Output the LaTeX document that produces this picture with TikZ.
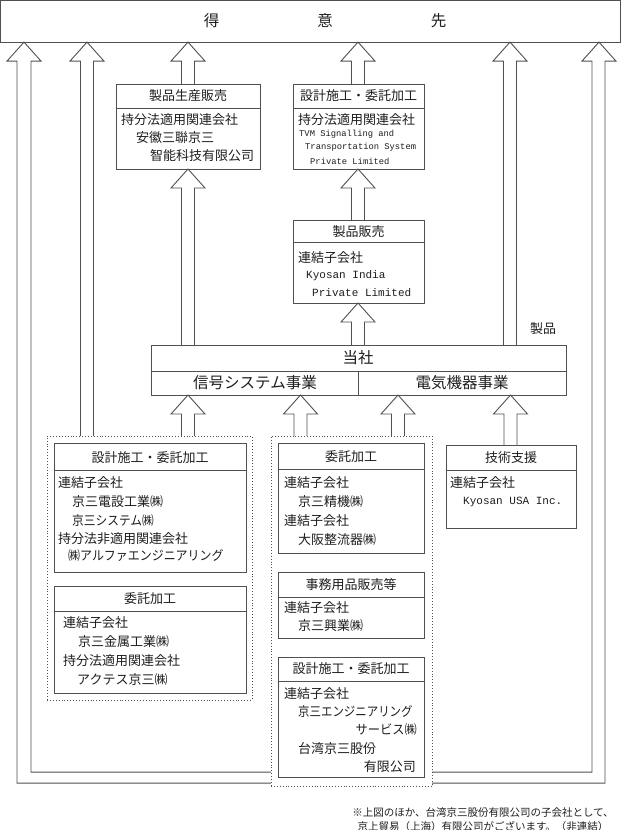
\documentclass[tikz,border=0pt]{standalone}
\usepackage{fontspec}
\setmainfont{Noto Sans CJK JP}
\newfontfamily\monof{Liberation Mono}
\usetikzlibrary{calc}
\definecolor{linec}{HTML}{505050}
\definecolor{txtc}{HTML}{1E1E1E}
\newcommand\blockarr[3]{%
  \coordinate (ax) at (#1,0);
  \draw[arr] ($(ax|-#2.north)+(-6.5,0)$) -- ($(ax|-#3.south)+(-6.5,19)$) -- ($(ax|-#3.south)+(-17,19)$) -- (ax|-#3.south) -- ($(ax|-#3.south)+(17,19)$) -- ($(ax|-#3.south)+(6.5,19)$) -- ($(ax|-#2.north)+(6.5,0)$);}
\newcommand\hdrline[2]{\draw[arr] ($(#1.north west)+(0,#2)$) -- ($(#1.north east)+(0,#2)$);}
\begin{document}
\begin{tikzpicture}[x=1pt,y=-1pt,
  arr/.style={draw=linec, line width=0.9pt, line join=miter},
  box/.style={draw=linec, line width=0.9pt, fill=white, anchor=north west, inner sep=0pt, outer sep=0pt},
  grp/.style={draw=linec, line width=0.9pt, dotted, fill=white, anchor=north west, inner sep=0pt, outer sep=0pt},
  hdr/.style={font=\fontsize{13}{13}\selectfont, text=txtc, inner sep=0pt, anchor=center},
  txt/.style={font=\fontsize{13}{13}\selectfont, text=txtc, inner sep=0pt, anchor=west},
  rtxt/.style={font=\fontsize{13}{13}\selectfont, text=txtc, inner sep=0pt, anchor=east},
  big/.style={font=\fontsize{15.5}{15.5}\selectfont, text=txtc, inner sep=0pt, anchor=center},
  msm/.style={font=\monof\fontsize{8.8}{8.8}\selectfont, text=txtc, inner sep=0pt, anchor=west},
  mlg/.style={font=\monof\fontsize{11}{11}\selectfont, text=txtc, inner sep=0pt, anchor=west},
  note/.style={font=\fontsize{10.5}{10.5}\selectfont, text=txtc, inner sep=0pt, anchor=center}]
\useasboundingbox (0,0) rectangle (622,830);
\fill[white] (0,0) rectangle (622,830);

% customers
\node[box, minimum width=620pt, minimum height=41.5pt] (tok) at (0.6,0.6) {};
\node[big] (toktxt) at (325,21) {得\hspace{98pt}意\hspace{98pt}先};

% U-shaped band
\coordinate (uL) at (24,0);
\coordinate (uR) at (599,0);
\draw[arr] (uL|-tok.south) -- ++(17,19) -- ++(-10,0) -- ++(0,711) -- ++(561,0) -- ++(0,-711) -- ++(-10,0)
  -- (uR|-tok.south) -- ++(17,19) -- ++(-11,0) -- ++(0,722) -- ++(-588,0) -- ++(0,-722) -- ++(-10,0) -- cycle;

% top boxes
\node[box, minimum width=144pt, minimum height=85pt] (p1) at (116,84) {};
\hdrline{p1}{24}
\node[hdr] (p1h) at (188,96) {製品生産販売};
\node[txt] (p1a) at (121,120) {持分法適用関連会社};
\node[txt] (p1b) at (136,138) {安徽三聯京三};
\node[txt] (p1c) at (150,156) {智能科技有限公司};

\node[box, minimum width=131pt, minimum height=85pt] (p2) at (293,84) {};
\hdrline{p2}{24}
\node[hdr] (p2h) at (358.5,96) {設計施工・委託加工};
\node[txt] (p2a) at (298,120) {持分法適用関連会社};
\node[msm] (p2b) at (299,134) {TVM Signalling and};
\node[msm] (p2c) at (305,147.5) {Transportation System};
\node[msm] (p2d) at (310,161) {Private Limited};

\node[box, minimum width=131pt, minimum height=83pt] (p3) at (293,220) {};
\hdrline{p3}{22}
\node[hdr] (p3h) at (358.5,232) {製品販売};
\node[txt] (p3a) at (298,258) {連結子会社};
\node[mlg] (p3b) at (306,276) {Kyosan India};
\node[mlg] (p3c) at (312,293) {Private Limited};

% company bar
\node[box, minimum width=415pt, minimum height=50pt] (tosha) at (151,345) {};
\hdrline{tosha}{26}
\draw[arr] ($(tosha.north west)+(207,26)$) -- ($(tosha.south west)+(207,0)$);
\node[big] (toshat) at (358,358) {当社};
\node[big] (sig) at (255,383) {信号システム事業};
\node[big] (ele) at (462,383) {電気機器事業};
\node[hdr] (seihin) at (543,329) {製品};

% left group
\node[grp, minimum width=205pt, minimum height=264pt] (gL) at (47,436) {};
\node[box, minimum width=192pt, minimum height=129pt] (bA) at (54,443) {};
\hdrline{bA}{27}
\node[hdr] (bAh) at (150,458) {設計施工・委託加工};
\node[txt] (bA1) at (58,483) {連結子会社};
\node[txt] (bA2) at (72,502) {京三電設工業㈱};
\node[txt] (bA3) at (72,521) {\scalebox{0.9}[1]{京三システム㈱}};
\node[txt] (bA4) at (58,539) {持分法非適用関連会社};
\node[txt] (bA5) at (68,556) {\scalebox{0.92}[1]{㈱アルファエンジニアリング}};

\node[box, minimum width=192pt, minimum height=107pt] (bB) at (54,586) {};
\hdrline{bB}{25}
\node[hdr] (bBh) at (150,599) {委託加工};
\node[txt] (bB1) at (63,623) {連結子会社};
\node[txt] (bB2) at (78,642) {京三金属工業㈱};
\node[txt] (bB3) at (63,661) {持分法適用関連会社};
\node[txt] (bB4) at (77,680) {アクテス京三㈱};

% middle group
\node[grp, minimum width=161pt, minimum height=350pt] (gM) at (271,436) {};
\node[box, minimum width=146pt, minimum height=110pt] (bC) at (278,443) {};
\hdrline{bC}{26}
\node[hdr] (bCh) at (351,457) {委託加工};
\node[txt] (bC1) at (284,483) {連結子会社};
\node[txt] (bC2) at (298,502) {京三精機㈱};
\node[txt] (bC3) at (284,521) {連結子会社};
\node[txt] (bC4) at (298,540) {大阪整流器㈱};

\node[box, minimum width=146pt, minimum height=66pt] (bD) at (278,572) {};
\hdrline{bD}{25}
\node[hdr] (bDh) at (351,585) {事務用品販売等};
\node[txt] (bD1) at (284,608) {連結子会社};
\node[txt] (bD2) at (298,626) {京三興業㈱};

\node[box, minimum width=146pt, minimum height=120pt] (bE) at (278,657) {};
\hdrline{bE}{24}
\node[hdr] (bEh) at (351,669) {設計施工・委託加工};
\node[txt] (bE1) at (284,694) {連結子会社};
\node[txt] (bE2) at (298,712) {\scalebox{0.88}[1]{京三エンジニアリング}};
\node[rtxt] (bE3) at (417,730) {\scalebox{0.94}[1]{サービス㈱}};
\node[txt] (bE4) at (298,749) {台湾京三股份};
\node[rtxt] (bE5) at (416,767) {有限公司};

% tech support
\node[box, minimum width=130pt, minimum height=83pt] (bT) at (446,445) {};
\hdrline{bT}{25}
\node[hdr] (bTh) at (511,458) {技術支援};
\node[txt] (bT1) at (450,483) {連結子会社};
\node[mlg] (bT2) at (463,502) {Kyosan USA Inc.};

% block arrows
\blockarr{87}{gL}{tok}
\blockarr{188}{p1}{tok}
\blockarr{358}{p2}{tok}
\blockarr{510}{tosha}{tok}
\blockarr{188}{tosha}{p1}
\blockarr{358}{p3}{p2}
\blockarr{358}{tosha}{p3}
\blockarr{188}{gL}{tosha}
\blockarr{300.5}{gM}{tosha}
\blockarr{398}{gM}{tosha}
\blockarr{510.5}{bT}{tosha}

% footnote
\node[note] (n1) at (483,813) {※上図のほか、台湾京三股份有限公司の子会社として、};
\node[note] (n2) at (483,826) {京上貿易（上海）有限公司がございます。（非連結）};
\end{tikzpicture}
\end{document}
